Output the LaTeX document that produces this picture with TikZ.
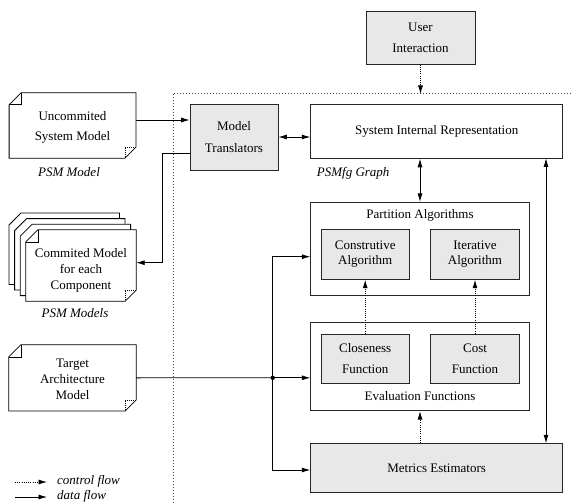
\documentclass[tikz,border=0pt]{standalone}
\usepackage{fontspec}
\setmainfont{Liberation Serif}
\usetikzlibrary{arrows.meta,calc}
\newcommand\mypage[1]{%
  \draw[line width=0.8pt, fill=white] ([yshift=-12pt]#1.north west) -- ([xshift=12pt]#1.north west) -- (#1.north east) -- ([yshift=11pt]#1.south east) -- ([xshift=-11pt]#1.south east) -- (#1.south west) -- cycle;}
\newcommand\mydoc[1]{%
  \mypage{#1}%
  \draw[line width=0.6pt] ([yshift=-12pt]#1.north west) -- ([xshift=12pt,yshift=-12pt]#1.north west) -- ([xshift=12pt]#1.north west);
  \draw[line width=0.6pt, dash pattern=on 0.8pt off 1.2pt] ([yshift=11pt]#1.south east) -- ([xshift=-11pt,yshift=11pt]#1.south east) -- ([xshift=-11pt]#1.south east);}
\begin{document}
\begin{tikzpicture}[x=1pt,y=-1pt,
  font=\fontsize{13}{16}\selectfont,
  box/.style={draw=black!85, line width=0.8pt, inner sep=0pt, align=center},
  graybox/.style={box, fill=gray!18},
  whitebox/.style={box, fill=white},
  frame/.style={inner sep=0pt},
  txt/.style={inner sep=0pt, align=center},
  tip/.tip={Latex[length=8.5pt,width=5pt]},
  data/.style={line width=0.8pt, -tip},
  bidata/.style={line width=0.8pt, tip-tip},
  ctrl/.style={line width=0.8pt, dash pattern=on 0.8pt off 1.4pt, -tip},
  bound/.style={line width=0.7pt, draw=black!75, dash pattern=on 0.8pt off 2.2pt}]
\useasboundingbox (0,0) rectangle (571,503);

% system boundary
\coordinate (bA) at (173.5,503);
\coordinate (bB) at (173.5,93);
\coordinate (bC) at (571,93);
\draw[bound] (bA) -- (bB) -- (bC);

% user interaction
\node[graybox, minimum width=109pt, minimum height=53pt, font=\fontsize{13}{21.5}\selectfont] (ui) at (420.5,37.7) {User\\Interaction};
\coordinate (uiend) at (420.5,94);
\draw[ctrl] (ui.south) -- (uiend);

% uncommited model
\node[frame, minimum width=126.4pt, minimum height=65pt] (unc) at (72.5,125.5) {};
\mydoc{unc}
\node[txt, font=\fontsize{13}{20.6}\selectfont] (uncT) at (72.5,127.3) {Uncommited\\System Model};
\node[txt, font=\fontsize{13}{16}\itshape] (uncL) at (69,172) {PSM Model};

% model translators
\node[graybox, minimum width=88pt, minimum height=66pt, font=\fontsize{13}{21.3}\selectfont] (mt) at (234,137) {Model\\Translators};

% system internal representation
\node[whitebox, minimum width=252pt, minimum height=54.3pt] (sir) at (436.7,131.2) {System Internal Representation};
\node[txt, anchor=west, font=\fontsize{13}{16}\itshape] (sirL) at (316.7,173.3) {PSMfg Graph};

% commited models (stack)
\node[frame, minimum width=110pt, minimum height=71pt] (cmt3) at (64.2,248.7) {};
\node[frame, minimum width=110pt, minimum height=71pt] (cmt2) at (69.8,254.3) {};
\node[frame, minimum width=110pt, minimum height=71pt] (cmt1) at (75.4,259.9) {};
\node[frame, minimum width=110pt, minimum height=71pt] (cmt) at (81,265.5) {};
\mypage{cmt3}
\mypage{cmt2}
\mypage{cmt1}
\mydoc{cmt}
\node[txt, font=\fontsize{13}{16}\selectfont] (cmtT) at (81,270.5) {Commited Model\\for each\\Component};
\node[txt, font=\fontsize{13}{16}\itshape] (cmtL) at (75,313) {PSM Models};

% target architecture
\node[frame, minimum width=127pt, minimum height=65.7pt] (tgt) at (72.5,377.85) {};
\mydoc{tgt}
\node[txt, font=\fontsize{13}{16.3}\selectfont] (tgtT) at (72.5,379.5) {Target\\Architecture\\Model};

% partition algorithms
\node[whitebox, minimum width=218.6pt, minimum height=93.4pt] (pa) at (420,249) {};
\node[txt] (paL) at (420,215) {Partition Algorithms};
\node[graybox, minimum width=88.3pt, minimum height=50pt, font=\fontsize{13}{15}\selectfont] (ca) at (365.2,254.3) {Construtive\\Algorithm};
\node[graybox, minimum width=88.3pt, minimum height=50pt, font=\fontsize{13}{15}\selectfont] (it) at (475,254.3) {Iterative\\Algorithm};

% evaluation functions
\node[whitebox, minimum width=218.6pt, minimum height=88pt] (ef) at (420,366.7) {};
\node[txt] (efL) at (420,396) {Evaluation Functions};
\node[graybox, minimum width=88.3pt, minimum height=49.3pt, font=\fontsize{13}{21.6}\selectfont] (cf) at (365.2,358.7) {Closeness\\Function};
\node[graybox, minimum width=88.3pt, minimum height=49.3pt, font=\fontsize{13}{21.6}\selectfont] (cost) at (475,358.7) {Cost\\Function};

% metrics estimators
\node[graybox, minimum width=252pt, minimum height=49pt] (met) at (436.7,467.8) {Metrics Estimators};

% data flow connectors
\coordinate (p1) at ([yshift=5.5pt]unc.east);
\draw[data] (p1) -- (p1 -| mt.west);
\coordinate (p2) at ([yshift=-16pt]mt.west);
\coordinate (p3) at (162.7,262.7);
\draw[data] (p2) -| (p3) -- (p3 -| cmt.east);
\draw[bidata] (mt.east) -- (mt.east -| sir.west);
\draw[bidata] (pa.north |- sir.south) -- (pa.north);
\coordinate (q1) at (546,158.3);
\coordinate (q2) at (546,443.3);
\draw[bidata] (q1) -- (q2);

\coordinate (j) at (272.7,377.8);
\draw[line width=0.8pt] (tgt.east) -- (j);
\draw[data] (j) -- (j -| ef.west);
\draw[data] (j) |- ([yshift=-7.7pt]pa.west);
\draw[data] (j) |- ([yshift=-2.2pt]met.west);
\fill (j) circle (2.2pt);

% control flow connectors
\draw[ctrl] (cf.north) -- (ca.south);
\draw[ctrl] (cost.north) -- (it.south);
\draw[ctrl] (ef.south |- met.north) -- (ef.south);

% legend
\coordinate (l1a) at (15,482);
\coordinate (l1b) at (47,482);
\coordinate (l2a) at (15,497);
\coordinate (l2b) at (47,497);
\draw[ctrl] (l1a) -- (l1b);
\draw[data] (l2a) -- (l2b);
\node[txt, anchor=west, font=\fontsize{13}{16}\itshape] (lg1) at (57,481) {control flow};
\node[txt, anchor=west, font=\fontsize{13}{16}\itshape] (lg2) at (57,496) {data flow};
\end{tikzpicture}
\end{document}
